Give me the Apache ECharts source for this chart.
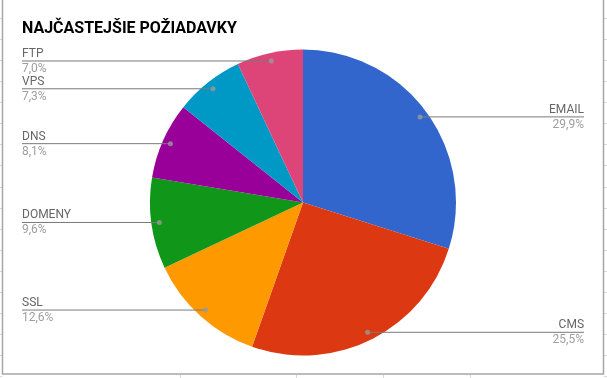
<!DOCTYPE html>
<html>
<head>
<meta charset="utf-8">
<script src="https://cdn.jsdelivr.net/npm/echarts@6/dist/echarts.min.js"></script>
<style>html,body{margin:0;padding:0;background:#fff;}#c{width:607px;height:378px;}</style>
</head>
<body>
<div id="c"></div>
<script>
const titleText = 'NAJČASTEJŠIE POŽIADAVKY';
const categories = ['EMAIL', 'CMS', 'SSL', 'DOMENY', 'DNS', 'VPS', 'FTP'];
const values = [29.9, 25.5, 12.6, 9.6, 8.1, 7.3, 7.0];
const colors = ['#3366CC', '#DC3912', '#FF9900', '#109618', '#990099', '#0099C6', '#DD4477'];

const CX = 303, CY = 202.5, R = 153, RDOT = 145;
const LEFT_X = 22, RIGHT_X = 584;
const total = values.reduce((a, b) => a + b, 0);

const pieData = categories.map((c, i) => ({ name: c, value: values[i], itemStyle: { color: colors[i] } }));
const labelData = categories.map((c, i) => ({ name: c, value: values[i] }));
// dot positions: midpoint of each slice on a polar scale
let acc = 0;
const dotData = values.map(v => { const m = acc + v / 2; acc += v; return [1, m]; });

function fmtPct(v) { return (v / total * 100).toFixed(1).replace('.', ',') + '%'; }

// decorative spreadsheet grid ticks outside the chart frame
const deco = [];
const rowYs = []; for (let y = 18; y < 378; y += 21.07) rowYs.push(Math.round(y) + 0.5);
rowYs.forEach(y => {
  deco.push({ type: 'line', shape: { x1: 0, y1: y, x2: 2, y2: y }, style: { stroke: '#d9d9d9', lineWidth: 1 }, silent: true });
  deco.push({ type: 'line', shape: { x1: 604, y1: y, x2: 607, y2: y }, style: { stroke: '#d9d9d9', lineWidth: 1 }, silent: true });
});
[180, 296, 383, 470].forEach(x => {
  deco.push({ type: 'line', shape: { x1: x + 0.5, y1: 375, x2: x + 0.5, y2: 378 }, style: { stroke: '#d9d9d9', lineWidth: 1 }, silent: true });
});
deco.push({ type: 'rect', shape: { x: 2.5, y: -5, width: 601, height: 379 }, style: { fill: 'none', stroke: '#a6a6a6', lineWidth: 1.5 }, silent: true, z: 100 });

const chart = echarts.init(document.getElementById('c'), null, { renderer: 'canvas' });
chart.setOption({
  animation: false,
  backgroundColor: '#ffffff',
  title: {
    text: titleText, left: 22, top: 20.5, padding: 0,
    textStyle: { fontFamily: 'Roboto', fontSize: 16, fontWeight: 'bold', color: '#000000', lineHeight: 16 }
  },
  polar: { center: [CX, CY], radius: RDOT },
  angleAxis: { type: 'value', min: 0, max: 100, startAngle: 90, clockwise: true, show: false,
    axisLine: { show: false }, axisTick: { show: false }, axisLabel: { show: false }, splitLine: { show: false } },
  radiusAxis: { type: 'value', min: 0, max: 1, show: false,
    axisLine: { show: false }, axisTick: { show: false }, axisLabel: { show: false }, splitLine: { show: false } },
  graphic: deco,
  series: [
    {
      type: 'pie', center: [CX, CY], radius: R, startAngle: 90, clockwise: true,
      data: pieData, label: { show: false }, labelLine: { show: false }, silent: true,
      emphasis: { disabled: true }, itemStyle: { borderWidth: 0 }
    },
    {
      type: 'pie', center: [CX, CY], radius: RDOT, startAngle: 90, clockwise: true,
      data: labelData, silent: true, emphasis: { disabled: true }, z: 5,
      itemStyle: { color: 'rgba(0,0,0,0)', borderWidth: 0 },
      label: {
        show: true, position: 'outside',
        formatter: p => '{n|' + p.name + '}\n{v|' + fmtPct(p.value) + '}',
        rich: {
          n: { fontFamily: 'Roboto', fontSize: 12, color: '#666666', lineHeight: 15 },
          v: { fontFamily: 'Roboto', fontSize: 12, color: '#9e9e9e', lineHeight: 15 }
        }
      },
      labelLine: { show: true, length: 0, length2: 0, lineStyle: { color: '#7a7a7a', width: 1 } },
      labelLayout: function (params) {
        const pts = params.labelLinePoints;
        const p0 = pts[0];
        const isLeft = p0[0] < CX;
        const ex = isLeft ? LEFT_X : RIGHT_X;
        return {
          x: ex, y: p0[1] + 0.5, align: isLeft ? 'left' : 'right', verticalAlign: 'middle',
          labelLinePoints: [[p0[0], p0[1]], [p0[0], p0[1]], [ex, p0[1]]]
        };
      }
    },
    {
      type: 'scatter', coordinateSystem: 'polar', data: dotData, symbol: 'circle', symbolSize: 5,
      itemStyle: { color: '#9a9a9a' }, silent: true, z: 6
    }
  ]
});
</script>
</body>
</html>
